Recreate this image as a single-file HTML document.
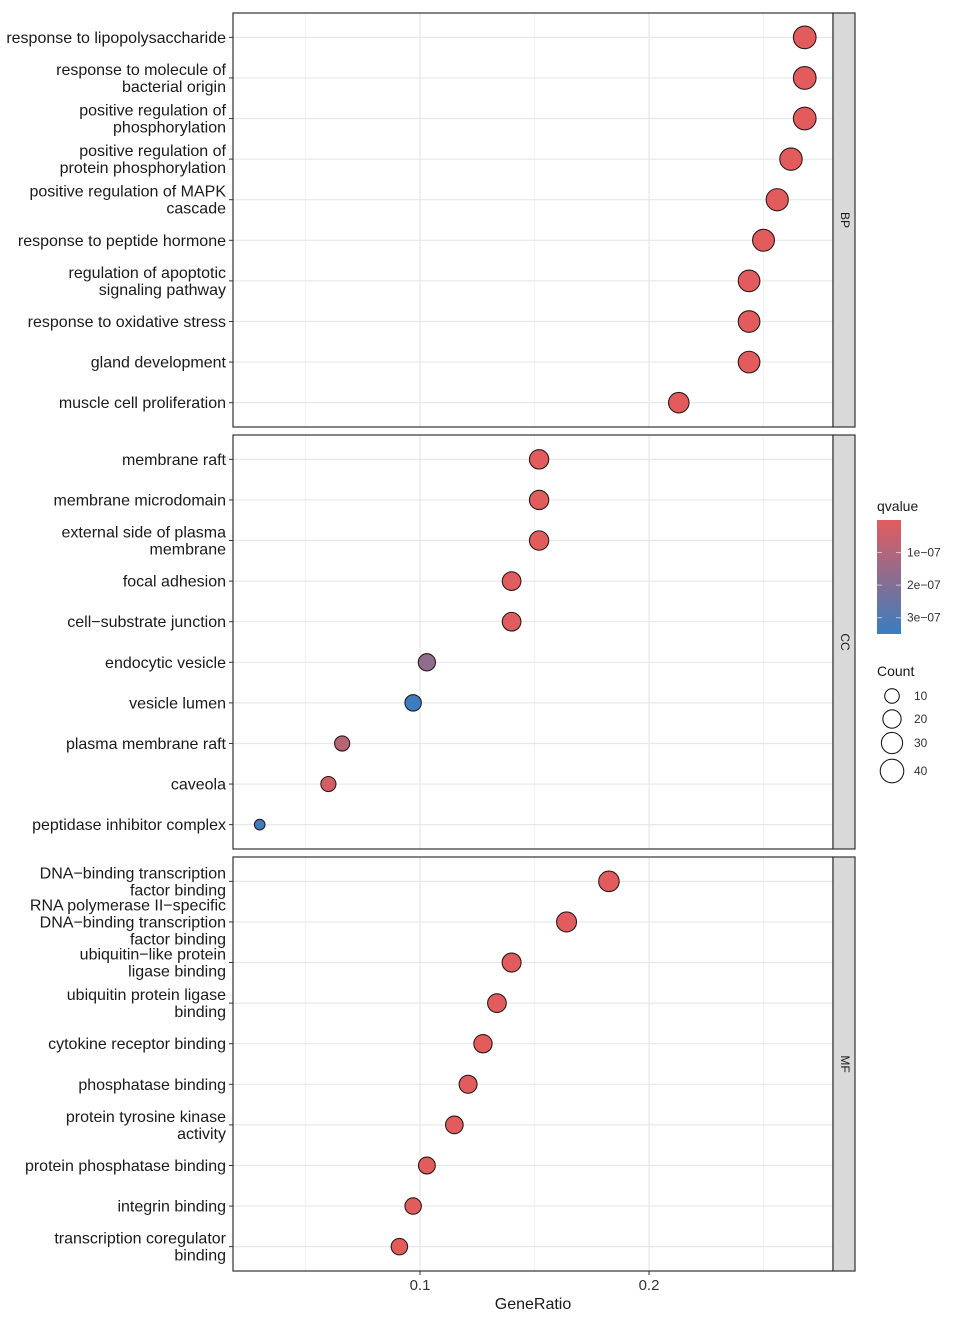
<!DOCTYPE html>
<html><head><meta charset="utf-8"><style>
body{margin:0;background:#fff;}
svg{display:block;font-family:"Liberation Sans",Arial,sans-serif;}
</style></head><body>
<svg id="chart" width="956" height="1320" viewBox="0 0 956 1320"></svg>
<script>
const bpTerms=["response to lipopolysaccharide","response to molecule of|bacterial origin","positive regulation of|phosphorylation","positive regulation of|protein phosphorylation","positive regulation of MAPK|cascade","response to peptide hormone","regulation of apoptotic|signaling pathway","response to oxidative stress","gland development","muscle cell proliferation"];
const bpRatio=[0.268,0.268,0.268,0.262,0.256,0.250,0.2437,0.2437,0.2437,0.213];
const bpCount=[32,32,32,31,30,29,28,28,28,24];
const bpQ=[1e-9,1e-9,1e-9,1e-9,1e-9,1e-9,1e-9,1e-9,1e-9,1e-9];
const ccTerms=["membrane raft","membrane microdomain","external side of plasma|membrane","focal adhesion","cell\u2212substrate junction","endocytic vesicle","vesicle lumen","plasma membrane raft","caveola","peptidase inhibitor complex"];
const ccRatio=[0.152,0.152,0.152,0.140,0.140,0.103,0.097,0.066,0.060,0.030];
const ccCount=[20,20,20,18,18,14,12,9,9,2];
const ccQ=[1e-9,1e-9,1e-9,2e-9,2e-9,1.7e-7,3.4e-7,0.9e-7,3e-8,3.4e-7];
const mfTerms=["DNA\u2212binding transcription|factor binding","RNA polymerase II\u2212specific|DNA\u2212binding transcription|factor binding","ubiquitin\u2212like protein|ligase binding","ubiquitin protein ligase|binding","cytokine receptor binding","phosphatase binding","protein tyrosine kinase|activity","protein phosphatase binding","integrin binding","transcription coregulator|binding"];
const mfRatio=[0.1825,0.164,0.140,0.1336,0.1275,0.121,0.115,0.103,0.097,0.091];
const mfCount=[24,22,19,18,17,16,15,13,12,12];
const mfQ=[1e-9,1e-9,1e-9,1e-9,1e-9,1e-9,1e-9,1e-9,1e-9,1e-9];
const xTicks=[0.1,0.2];
const xMinor=[0.05,0.15,0.25];
const legendCounts=[10,20,30,40];
const legendQ=[1e-7,2e-7,3e-7];

const NS="http://www.w3.org/2000/svg";
const svg=document.getElementById('chart');
function mk(tag,attrs,parent,text){const e=document.createElementNS(NS,tag);for(const k in attrs)e.setAttribute(k,attrs[k]);if(text!==undefined)e.textContent=text;(parent||svg).appendChild(e);return e;}
const PX0=233,PX1=833;
function xs(v){return 420+(v-0.1)*2290;}
function rs(c){return 3.3+1.42*Math.sqrt(c);}
const qMax=3.5e-7;
function col(q){let t=Math.min(1,Math.max(0,q/qMax));const a=[226,92,94],b=[55,126,193];
return `rgb(${a.map((v,i)=>Math.round(v+(b[i]-v)*t)).join(',')})`;}

const panels=[{name:"BP",terms:bpTerms,ratio:bpRatio,count:bpCount,q:bpQ,y0:13,y1:427},
{name:"CC",terms:ccTerms,ratio:ccRatio,count:ccCount,q:ccQ,y0:435,y1:849},
{name:"MF",terms:mfTerms,ratio:mfRatio,count:mfCount,q:mfQ,y0:857,y1:1271}];
panels.forEach(p=>{
  const g=mk('g',{},svg);
  
  
  const n=p.terms.length,step=(p.y1-p.y0)/(n+0.2);
  const ys=i=>p.y0+(0.6+i)*step;
  xMinor.forEach(v=>{const l=mk('line',{x1:xs(v),x2:xs(v),y1:p.y0,y2:p.y1,stroke:'#f2f2f2','stroke-width':1},g);});
  xTicks.forEach(v=>{const l=mk('line',{x1:xs(v),x2:xs(v),y1:p.y0,y2:p.y1,stroke:'#e6e6e6','stroke-width':1.2},g);});
  p.terms.forEach((t,i)=>{
    const y=ys(i);
    const gl=mk('line',{x1:PX0,x2:PX1,y1:y,y2:y,stroke:'#e8e8e8','stroke-width':1.2},g);
    
    const tk=mk('line',{x1:229,x2:233,y1:y,y2:y,stroke:'#333','stroke-width':1},g);
    
    const lines=t.split('|');const lh=17;
    const tx=mk('text',{x:226,'text-anchor':'end','font-size':16,fill:'#1a1a1a'},g);
    
    lines.forEach((s,j)=>{mk('tspan',{x:226,y:y+5.5+(j-(lines.length-1)/2)*lh},tx,s);});
  });
  p.terms.forEach((t,i)=>{
    const c=mk('circle',{cx:xs(p.ratio[i]),cy:ys(i),r:rs(p.count[i]),fill:col(p.q[i]),stroke:'#2a1a1a','stroke-width':1.1},g);
    
  });
  const b=mk('rect',{x:PX0,y:p.y0,width:PX1-PX0,height:p.y1-p.y0,fill:'none',stroke:'#333','stroke-width':1.2},g);
  
  const s=mk('rect',{x:PX1,y:p.y0,width:22,height:p.y1-p.y0,fill:'#d9d9d9',stroke:'#333','stroke-width':1.2},g);
  
  const cy=(p.y0+p.y1)/2;
  const st=mk('text',{x:844,y:cy,'text-anchor':'middle','dominant-baseline':'middle','font-size':12,fill:'#1a1a1a',transform:`rotate(90 844 ${cy})`},g,p.name);
  
});
xTicks.forEach(v=>{
  const l=mk('line',{x1:xs(v),x2:xs(v),y1:1271,y2:1275,stroke:'#333'});
  
  const t=mk('text',{x:xs(v),y:1290,'text-anchor':'middle','font-size':15,fill:'#333'},svg,String(v));
  
});
const xt=mk('text',{x:533,y:1309,'text-anchor':'middle','font-size':16,fill:'#1a1a1a'},svg,'GeneRatio');


// legend
const defs=mk('defs',{});
const gr=mk('linearGradient',{id:'qg',x1:0,y1:0,x2:0,y2:1},defs);
for(let k=0;k<=10;k++){mk('stop',{offset:k/10,'stop-color':col(k/10*qMax*(114/115))},gr);}
const lt=mk('text',{x:877,y:511,'font-size':14,fill:'#1a1a1a'},svg,'qvalue');

const bar=mk('rect',{x:877,y:520,width:24,height:114,fill:'url(#qg)'});

legendQ.forEach(q=>{
  const y=520+q/qMax*114;
  mk('line',{x1:877,x2:882,y1:y,y2:y,stroke:'#fff','stroke-opacity':0.6});
  mk('line',{x1:896,x2:901,y1:y,y2:y,stroke:'#fff','stroke-opacity':0.6});
  const t=mk('text',{x:907,y:y+4,'font-size':12,fill:'#333'},svg,(q*1e7).toFixed(0)+'e\u221207');
  
});
const ct=mk('text',{x:877,y:676,'font-size':14,fill:'#1a1a1a'},svg,'Count');

const lys=[696,719,743,771];
legendCounts.forEach((c,i)=>{
  const e=mk('circle',{cx:892,cy:lys[i],r:rs(c)-0.5,fill:'none',stroke:'#1a1a1a','stroke-width':1.1});
  
  const t=mk('text',{x:914,y:lys[i]+4,'font-size':12,fill:'#333'},svg,String(c));
  
});
</script>
</body></html>
